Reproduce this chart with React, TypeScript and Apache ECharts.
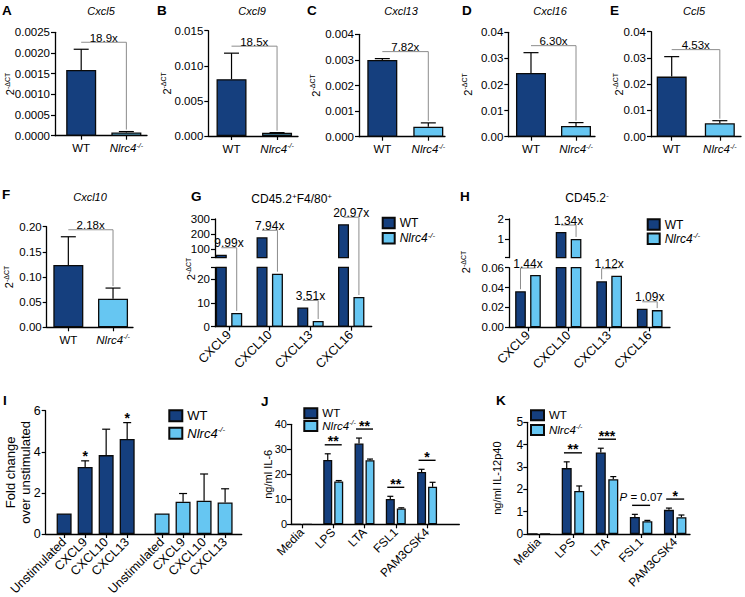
import React, { useEffect, useRef } from 'react';
import * as echarts from 'echarts';

const FONT = '"Liberation Sans", Arial, Helvetica, sans-serif';
const WT_COLOR = '#153f7e';
const KO_COLOR = '#66c6f2';
const EDGE = '#0a0a0a';
const BRACKET = '#8c8c8c';
const KO_NAME = 'Nlrc4-/-';

// ---------- DATA ----------
const geneTitles = ['Cxcl5', 'Cxcl9', 'Cxcl13', 'Cxcl16', 'Ccl5', 'Cxcl10'];
const cxcl5Mean = [0.00159, 0.00008];
const cxcl5Sem = [0.0005, 0.00002];
const cxcl9Mean = [0.0081, 0.00045];
const cxcl9Sem = [0.0037, 0.00003];
const cxcl13Mean = [0.003, 0.00039];
const cxcl13Sem = [0.00005, 0.00015];
const cxcl16Mean = [0.0244, 0.0041];
const cxcl16Sem = [0.0078, 0.0013];
const ccl5Mean = [0.0229, 0.0051];
const ccl5Sem = [0.0076, 0.001];
const cxcl10Mean = [0.124, 0.057];
const cxcl10Sem = [0.056, 0.021];
const singleFolds = ['18.9x', '18.5x', '7.82x', '6.30x', '4.53x', '2.18x'];

const chemokines = ['CXCL9', 'CXCL10', 'CXCL13', 'CXCL16'];
const macWT = [60, 177, 8.1, 265];
const macKO = [5.8, 22.3, 2.4, 12.5];
const macFolds = ['9.99x', '7.94x', '3.51x', '20.97x'];
const macUpperTicks = [100, 200, 300];
const macLowerTicks = [0, 10, 20];
const nonHemWT = [0.0363, 1.36, 0.0463, 0.0186];
const nonHemKO = [0.0526, 1.02, 0.052, 0.0173];
const nonHemFolds = ['1.44x', '1.34x', '1.12x', '1.09x'];
const nonHemUpperTicks = [1, 2];
const nonHemLowerTicks = [0, 0.02, 0.04, 0.06];

const stimLabels = ['Unstimulated', 'CXCL9', 'CXCL10', 'CXCL13'];
const foldWT = [1, 3.26, 3.84, 4.62];
const foldWTSem = [0, 0.3, 1.26, 0.8];
const foldKO = [1, 1.57, 1.62, 1.53];
const foldKOSem = [0, 0.4, 1.3, 0.67];
const foldWTStars = ['', '*', '', '*'];

const tlrLigands = ['Media', 'LPS', 'LTA', 'FSL1', 'PAM3CSK4'];
const il6WT = [0, 25.7, 32.3, 10.1, 20.9];
const il6WTSem = [0, 2.5, 2.2, 1.1, 1.1];
const il6KO = [0, 17.1, 25.6, 6.3, 15];
const il6KOSem = [0, 0.4, 0.5, 0.3, 1.8];
const il6Sig = ['', '**', '**', '**', '*'];
const il12WT = [0, 2.95, 3.65, 0.76, 1.08];
const il12WTSem = [0, 0.28, 0.19, 0.12, 0.08];
const il12KO = [0, 1.93, 2.45, 0.57, 0.75];
const il12KOSem = [0, 0.22, 0.12, 0.04, 0.1];
const il12Sig = ['', '**', '***', 'P = 0.07', '*'];

// ---------- helpers ----------
function rich(size: number) {
  const sup = Math.round(size * 0.64);
  return {
    n: { fontSize: size, fontFamily: FONT, color: '#000', lineHeight: size + 2 },
    i: { fontSize: size, fontFamily: FONT, fontStyle: 'italic', color: '#000', lineHeight: size + 2 },
    s: { fontSize: sup, fontFamily: FONT, fontStyle: 'italic', color: '#000', verticalAlign: 'top', lineHeight: sup + 1 },
    u: { fontSize: sup, fontFamily: FONT, color: '#000', verticalAlign: 'top', lineHeight: sup + 1 },
  };
}
const koLabel = '{i|Nlrc4}{s|-/-}';
const yNameDCT = '{n|2}{u|-ΔCT}';

function txt(text: string, x: number, y: number, size: number, extra: any = {}) {
  return {
    type: 'text',
    x, y,
    rotation: extra.rotation || 0,
    silent: true,
    style: {
      text, x: 0, y: 0,
      fontSize: size, fontFamily: FONT,
      fontWeight: extra.fontWeight || 'normal',
      fontStyle: extra.fontStyle || 'normal',
      fill: '#000',
      align: extra.align || 'center', textAlign: extra.align || 'center',
      verticalAlign: 'middle', textVerticalAlign: 'middle',
      rich: extra.rich,
    },
  };
}

function errorBars(dx: number, cap: number) {
  return (params: any, api: any) => {
    const x = api.value(0), m = api.value(1), e = api.value(2);
    if (!(e > 0)) return undefined;
    const a = api.coord([x, m]);
    const b = api.coord([x, m + e]);
    const cx = a[0] + dx;
    const st = { stroke: '#000', lineWidth: 1.2 };
    return {
      type: 'group',
      children: [
        { type: 'line', shape: { x1: cx, y1: a[1], x2: cx, y2: b[1] }, style: st },
        { type: 'line', shape: { x1: cx - cap, y1: b[1], x2: cx + cap, y2: b[1] }, style: st },
      ],
    };
  };
}

function bracket(xa: number, ya: number, xb: number, yb: number, label: string, size: number) {
  const level = Math.min(ya, yb) - 7;
  const pts = yb >= ya
    ? [[xa, level], [xb, level], [xb, yb - 2]]
    : [[xb, level], [xa, level], [xa, ya - 2]];
  return {
    type: 'group',
    children: [
      { type: 'polyline', shape: { points: pts }, style: { stroke: BRACKET, lineWidth: 1, fill: 'none' } },
      {
        type: 'text',
        style: {
          text: label, x: (xa + xb) / 2, y: level + 1.5,
          align: 'center', textAlign: 'center', verticalAlign: 'bottom', textVerticalAlign: 'bottom',
          fontSize: size, fontFamily: FONT, fill: '#000',
        },
      },
    ],
  };
}

function sigMark(x: number, level: number, hw: number, label: string) {
  const isP = label.charAt(0) === 'P';
  const children: any[] = [
    { type: 'line', shape: { x1: x - hw, y1: level, x2: x + hw, y2: level }, style: { stroke: '#000', lineWidth: 1.4 } },
  ];
  if (isP) {
    children.push({
      type: 'text',
      style: {
        text: '{i|P}{n|' + label.slice(1) + '}', x, y: level - 2,
        align: 'center', textAlign: 'center', verticalAlign: 'bottom', textVerticalAlign: 'bottom',
        fontSize: 11.5, fontFamily: FONT, fill: '#000', rich: rich(11.5),
      },
    });
  } else {
    children.push({
      type: 'text',
      style: {
        text: label, x, y: level + 3.5,
        align: 'center', textAlign: 'center', verticalAlign: 'bottom', textVerticalAlign: 'bottom',
        fontSize: 14, fontWeight: 'bold', fontFamily: FONT, fill: '#000',
      },
    });
  }
  return { type: 'group', children };
}

// ---------- panel layouts ----------
const singlePanels = [
  { letter: 'A', mean: cxcl5Mean, sem: cxcl5Sem, grid: { left: 55, top: 32.3, width: 92, height: 103.4 }, xMin: -0.58, xMax: 1.457, yMax: 0.0025, yInt: 0.0005, dec: 4, nameGap: 38.5, lx: 2, ly: 10.8, tx: 101, ty: 10.5 },
  { letter: 'B', mean: cxcl9Mean, sem: cxcl9Sem, grid: { left: 208.3, top: 30.7, width: 89.7, height: 105.3 }, xMin: -0.51, xMax: 1.46, yMax: 0.015, yInt: 0.005, dec: 3, nameGap: 35, lx: 157, ly: 10.8, tx: 252, ty: 10.5 },
  { letter: 'C', mean: cxcl13Mean, sem: cxcl13Sem, grid: { left: 359, top: 34.3, width: 86, height: 102.4 }, xMin: -0.507, xMax: 1.363, yMax: 0.004, yInt: 0.001, dec: 3, nameGap: 37, lx: 307, ly: 10.8, tx: 401, ty: 10.5 },
  { letter: 'D', mean: cxcl16Mean, sem: cxcl16Sem, grid: { left: 508.3, top: 32.3, width: 86.7, height: 104.4 }, xMin: -0.504, xMax: 1.422, yMax: 0.04, yInt: 0.01, dec: 2, nameGap: 34, lx: 462, ly: 10.8, tx: 550, ty: 10.5 },
  { letter: 'E', mean: ccl5Mean, sem: ccl5Sem, grid: { left: 651, top: 31.7, width: 90, height: 105 }, xMin: -0.43, xMax: 1.44, yMax: 0.04, yInt: 0.01, dec: 2, nameGap: 26, lx: 610, ly: 10.8, tx: 694, ty: 10.5 },
  { letter: 'F', mean: cxcl10Mean, sem: cxcl10Sem, grid: { left: 46.7, top: 226.7, width: 86.3, height: 100.6 }, xMin: -0.484, xMax: 1.447, yMax: 0.2, yInt: 0.05, dec: 2, nameGap: 31, lx: 2, ly: 194, tx: 90, ty: 197 },
];

const I_GROUP_START = 4.66;

function buildOption() {
  const grid: any[] = [], xAxis: any[] = [], yAxis: any[] = [], series: any[] = [], legend: any[] = [], gfx: any[] = [];
  const axisLine = { show: true, onZero: false, lineStyle: { color: '#000', width: 1.3 } };
  const tick = (vals?: number[]) => {
    const t: any = { show: true, length: 4, inside: false, alignWithLabel: true, lineStyle: { color: '#000', width: 1.2 } };
    if (vals) t.customValues = vals;
    return t;
  };
  const addGrid = (g: any) => { grid.push({ ...g, containLabel: false, outerBoundsMode: 'none', show: false }); return grid.length - 1; };
  const addX = (gi: number, min: number, max: number, values: number[], fmt: any, size: number, rotate: number, visible: boolean) => {
    const lab: any = { show: visible, formatter: fmt, rotate, margin: 6, hideOverlap: false, color: '#000', fontFamily: FONT, fontSize: size, rich: rich(size) };
    if (values.length) lab.customValues = values;
    xAxis.push({
      type: 'value', gridIndex: gi, min, max, show: visible,
      splitLine: { show: false },
      axisLine: { ...axisLine, show: visible },
      axisTick: { ...tick(values.length ? values : undefined), show: visible },
      axisLabel: lab,
    });
  };
  const addY = (gi: number, min: number, max: number, o: any) => {
    const lab: any = { formatter: (v: number) => v.toFixed(o.dec), margin: o.margin || 5, fontSize: o.size, color: '#000', fontFamily: FONT, hideOverlap: false, showMinLabel: true, showMaxLabel: true };
    if (o.labelVals) lab.customValues = o.labelVals;
    const ax: any = {
      type: 'value', gridIndex: gi, min, max,
      splitLine: { show: false },
      axisLine, axisTick: tick(o.tickVals), axisLabel: lab,
      nameMoveOverlap: false,
    };
    if (o.interval) ax.interval = o.interval;
    if (o.name) {
      ax.name = o.name; ax.nameLocation = 'middle'; ax.nameGap = o.nameGap; ax.nameRotate = 90;
      ax.nameTextStyle = { fontSize: o.nameSize, fontFamily: FONT, color: '#000', lineHeight: o.nameSize + 2, rich: rich(o.nameSize) };
    }
    yAxis.push(ax);
  };

  // ----- A-F -----
  singlePanels.forEach((p, k) => {
    const gi = addGrid(p.grid);
    addX(gi, p.xMin, p.xMax, [0, 1], (v: number) => (v === 0 ? '{n|WT}' : v === 1 ? koLabel : ''), 11.5, 0, true);
    addY(gi, 0, p.yMax, { interval: p.yInt, dec: p.dec, size: 11.5, name: yNameDCT, nameGap: p.nameGap, nameSize: 11 });
    series.push({
      type: 'bar', name: 'bars' + p.letter, xAxisIndex: gi, yAxisIndex: gi, barWidth: 30, clip: true, silent: true,
      itemStyle: { borderColor: EDGE, borderWidth: 1.3 },
      data: p.mean.map((m, i) => ({ value: [i, m], itemStyle: { color: i === 0 ? WT_COLOR : KO_COLOR } })),
    });
    series.push({
      type: 'custom', name: 'err' + p.letter, xAxisIndex: gi, yAxisIndex: gi, silent: true, z: 3,
      data: p.mean.map((m, i) => [i, m, p.sem[i]]), renderItem: errorBars(0, 7.5),
    });
    series.push({
      type: 'custom', name: 'fold' + p.letter, xAxisIndex: gi, yAxisIndex: gi, silent: true, z: 4,
      data: [[0, 1, p.mean[0] + p.sem[0], p.mean[1] + p.sem[1]]],
      renderItem: (params: any, api: any) => {
        const a = api.coord([api.value(0), api.value(2)]);
        const b = api.coord([api.value(1), api.value(3)]);
        return bracket(a[0], a[1], b[0], b[1], singleFolds[k], 11.5);
      },
    });
    gfx.push(txt(p.letter, p.lx, p.ly, 13.5, { fontWeight: 'bold', align: 'left' }));
    gfx.push(txt(geneTitles[k], p.tx, p.ty, 11, { fontStyle: 'italic' }));
  });

  // ----- G, H (broken axes) -----
  const broken = [
    {
      letter: 'G', lx: 191, ly: 196, title: '{n|CD45.2}{s|+}{n|F4/80}{s|+}', tx: 291.7, ty: 199,
      nameX: 191, nameY: 269,
      upGrid: { left: 215, top: 219, width: 156.7, height: 38.7 }, loGrid: { left: 215, top: 267.3, width: 156.7, height: 59.4 },
      up: [40, 300], lo: [0, 25], upTicks: [40, ...macUpperTicks], upLabels: macUpperTicks, loTicks: [...macLowerTicks, 25], loLabels: macLowerTicks,
      upDec: 0, loDec: 0, xMin: -0.344, xMax: 3.503, bw: 11, gap: 0.4, wt: macWT, ko: macKO, folds: macFolds,
      legend: { left: 381.7, top: 216.7, itemGap: 2 },
    },
    {
      letter: 'H', lx: 460, ly: 196, title: '{n|CD45.2}{s|-}', tx: 587, ty: 198,
      nameX: 466, nameY: 262,
      upGrid: { left: 509, top: 219, width: 161, height: 38.7 }, loGrid: { left: 509, top: 267.7, width: 161, height: 59.6 },
      up: [0.1, 2], lo: [0, 0.06], upTicks: [0.1, ...nonHemUpperTicks], upLabels: nonHemUpperTicks, loTicks: nonHemLowerTicks, loLabels: nonHemLowerTicks,
      upDec: 0, loDec: 2, xMin: -0.468, xMax: 3.5, bw: 10.7, gap: 0.4, wt: nonHemWT, ko: nonHemKO, folds: nonHemFolds,
      legend: { left: 646.7, top: 218.3, itemGap: 1 },
    },
  ];
  broken.forEach((c) => {
    const up = addGrid(c.upGrid);
    const lo = addGrid(c.loGrid);
    addX(up, c.xMin, c.xMax, [], () => '', 12, 0, false);
    addX(lo, c.xMin, c.xMax, [0, 1, 2, 3], (v: number) => chemokines[v] || '', 12.5, 45, true);
    addY(up, c.up[0], c.up[1], { tickVals: c.upTicks, labelVals: c.upLabels, dec: c.upDec, size: 11.5 });
    addY(lo, c.lo[0], c.lo[1], { tickVals: c.loTicks, labelVals: c.loLabels, dec: c.loDec, size: 11.5 });
    const gapStr = Math.round(c.gap * 100) + '%';
    const defs: any[] = [[c.wt, 'WT', WT_COLOR], [c.ko, KO_NAME, KO_COLOR]];
    defs.forEach(([vals, name, color]) => {
      series.push({
        type: 'bar', name, xAxisIndex: up, yAxisIndex: up, barWidth: c.bw, barGap: gapStr, clip: true, silent: true,
        itemStyle: { color, borderColor: EDGE, borderWidth: 1.3 },
        data: vals.map((v: number, i: number) => [i, v > c.up[0] ? v : '-']),
      });
      series.push({
        type: 'bar', name, xAxisIndex: lo, yAxisIndex: lo, barWidth: c.bw, barGap: gapStr, clip: true, silent: true,
        itemStyle: { color, borderColor: EDGE, borderWidth: 1.3 },
        data: vals.map((v: number, i: number) => [i, v]),
      });
    });
    const half = (c.bw * (1 + c.gap)) / 2;
    const g = c.upGrid;
    const upY = (v: number) => g.top + ((c.up[1] - v) / (c.up[1] - c.up[0])) * g.height;
    series.push({
      type: 'custom', name: 'fold' + c.letter, xAxisIndex: lo, yAxisIndex: lo, silent: true, z: 4,
      data: c.wt.map((v, i) => [i, v, c.ko[i]]),
      renderItem: (params: any, api: any) => {
        const i = api.value(0);
        const x = api.coord([i, 0])[0];
        const yOf = (v: number) => (v > c.lo[1] ? upY(v) : api.coord([i, v])[1]);
        return bracket(x - half, yOf(api.value(1)), x + half, yOf(api.value(2)), c.folds[params.dataIndex], 12);
      },
    });
    legend.push({
      show: true, orient: 'vertical', left: c.legend.left, top: c.legend.top, padding: 0, itemGap: c.legend.itemGap,
      itemWidth: 12, itemHeight: 10.5, icon: 'rect', selectedMode: false, data: ['WT', KO_NAME],
      formatter: (n: string) => (n === 'WT' ? '{n|WT}' : koLabel),
      textStyle: { fontSize: 12, fontFamily: FONT, color: '#000', rich: rich(12) },
    });
    gfx.push(txt(c.letter, c.lx, c.ly, 13.5, { fontWeight: 'bold', align: 'left' }));
    gfx.push(txt(c.title, c.tx, c.ty, 12, { rich: rich(12) }));
    gfx.push(txt(yNameDCT, c.nameX, c.nameY, 11, { rich: rich(11), rotation: Math.PI / 2 }));
  });

  // ----- I -----
  {
    const gi = addGrid({ left: 45.7, top: 410.7, width: 196, height: 123.3 });
    const wtPos = stimLabels.map((_, i) => i);
    const koPos = stimLabels.map((_, i) => I_GROUP_START + i);
    const allPos = [...wtPos, ...koPos];
    const allLab = [...stimLabels, ...stimLabels];
    addX(gi, -0.877, 8.45, allPos, (v: number) => {
      const k = allPos.findIndex((p) => Math.abs(p - v) < 1e-6);
      return k >= 0 ? allLab[k] : '';
    }, 12.5, 45, true);
    addY(gi, 0, 6, { interval: 2, dec: 0, size: 12.5, name: 'Fold change\nover unstimulated', nameGap: 12.5, nameSize: 13 });
    const defs: any[] = [[wtPos, foldWT, foldWTSem, 'WT', WT_COLOR], [koPos, foldKO, foldKOSem, KO_NAME, KO_COLOR]];
    defs.forEach(([pos, mean, sem, name, color]) => {
      series.push({
        type: 'bar', name, xAxisIndex: gi, yAxisIndex: gi, barWidth: 15, barGap: '-100%', clip: true, silent: true,
        itemStyle: { color, borderColor: EDGE, borderWidth: 1.3 },
        data: mean.map((v: number, i: number) => [pos[i], v]),
      });
      series.push({
        type: 'custom', name: 'errI' + name, xAxisIndex: gi, yAxisIndex: gi, silent: true, z: 3,
        data: mean.map((v: number, i: number) => [pos[i], v, sem[i]]), renderItem: errorBars(0, 4),
      });
    });
    series.push({
      type: 'custom', name: 'starsI', xAxisIndex: gi, yAxisIndex: gi, silent: true, z: 4,
      data: foldWT.map((v, i) => [wtPos[i], v + foldWTSem[i]]),
      renderItem: (params: any, api: any) => {
        const lab = foldWTStars[params.dataIndex];
        if (!lab) return undefined;
        const p = api.coord([api.value(0), api.value(1)]);
        return {
          type: 'text',
          style: {
            text: lab, x: p[0], y: p[1] + 2,
            align: 'center', textAlign: 'center', verticalAlign: 'bottom', textVerticalAlign: 'bottom',
            fontSize: 14, fontWeight: 'bold', fontFamily: FONT, fill: '#000',
          },
        };
      },
    });
    legend.push({
      show: true, orient: 'vertical', left: 168.3, top: 409.3, padding: 0, itemGap: 3.5,
      itemWidth: 13, itemHeight: 11, icon: 'rect', selectedMode: false, data: ['WT', KO_NAME],
      formatter: (n: string) => (n === 'WT' ? '{n|WT}' : koLabel),
      textStyle: { fontSize: 13, fontFamily: FONT, color: '#000', rich: rich(13) },
    });
    gfx.push(txt('I', 3, 400, 13.5, { fontWeight: 'bold', align: 'left' }));
  }

  // ----- J, K -----
  const cyto = [
    {
      letter: 'J', lx: 261, ly: 401, grid: { left: 291, top: 424.3, width: 168.3, height: 100 }, xMin: -0.35, xMax: 5.03,
      yMax: 40, yInt: 10, name: 'ng/ml IL-6', nameGap: 16.5, tickSize: 11, bw: 9, gap: 0.22,
      wt: il6WT, wtSem: il6WTSem, ko: il6KO, koSem: il6KOSem, sig: il6Sig, hw: 8.5,
      legend: { left: 303.3, top: 407.3, itemGap: 0 },
    },
    {
      letter: 'K', lx: 496, ly: 400, grid: { left: 527.3, top: 422.3, width: 162.7, height: 111.7 }, xMin: -0.34, xMax: 4.435,
      yMax: 5, yInt: 1, name: 'ng/ml IL-12p40', nameGap: 24, tickSize: 12, bw: 10, gap: 0.25,
      wt: il12WT, wtSem: il12WTSem, ko: il12KO, koSem: il12KOSem, sig: il12Sig, hw: 9,
      legend: { left: 530, top: 409.3, itemGap: 2 },
    },
  ];
  cyto.forEach((c) => {
    const gi = addGrid(c.grid);
    addX(gi, c.xMin, c.xMax, [0, 1, 2, 3, 4], (v: number) => tlrLigands[v] || '', 12, 45, true);
    addY(gi, 0, c.yMax, { interval: c.yInt, dec: 0, size: c.tickSize, margin: 4, name: c.name, nameGap: c.nameGap, nameSize: 11 });
    const gapStr = Math.round(c.gap * 100) + '%';
    const half = (c.bw * (1 + c.gap)) / 2;
    const defs: any[] = [[c.wt, c.wtSem, 'WT', WT_COLOR, -half], [c.ko, c.koSem, KO_NAME, KO_COLOR, half]];
    defs.forEach(([mean, sem, name, color, dx]) => {
      series.push({
        type: 'bar', name, xAxisIndex: gi, yAxisIndex: gi, barWidth: c.bw, barGap: gapStr, clip: true, silent: true,
        itemStyle: { color, borderColor: EDGE, borderWidth: 1.3 },
        data: mean.map((v: number, i: number) => [i, v]),
      });
      series.push({
        type: 'custom', name: 'err' + c.letter + name, xAxisIndex: gi, yAxisIndex: gi, silent: true, z: 3,
        data: mean.map((v: number, i: number) => [i, v, sem[i]]), renderItem: errorBars(dx, 3),
      });
    });
    series.push({
      type: 'custom', name: 'sig' + c.letter, xAxisIndex: gi, yAxisIndex: gi, silent: true, z: 4,
      data: c.wt.map((v, i) => [i, Math.max(v + c.wtSem[i], c.ko[i] + c.koSem[i])]),
      renderItem: (params: any, api: any) => {
        const lab = c.sig[params.dataIndex];
        if (!lab) return undefined;
        const p = api.coord([api.value(0), api.value(1)]);
        return sigMark(p[0], p[1] - 9, c.hw, lab);
      },
    });
    legend.push({
      show: true, orient: 'vertical', left: c.legend.left, top: c.legend.top, padding: 0, itemGap: c.legend.itemGap,
      itemWidth: 13, itemHeight: 10, icon: 'rect', selectedMode: false, data: ['WT', KO_NAME],
      formatter: (n: string) => (n === 'WT' ? '{n|WT}' : koLabel),
      textStyle: { fontSize: 11.5, fontFamily: FONT, color: '#000', rich: rich(11.5) },
    });
    gfx.push(txt(c.letter, c.lx, c.ly, 13.5, { fontWeight: 'bold', align: 'left' }));
  });

  return {
    animation: false,
    backgroundColor: '#ffffff',
    textStyle: { fontFamily: FONT, color: '#000' },
    grid, xAxis, yAxis, series, legend,
    graphic: { elements: gfx },
  };
}

export default function App() {
  const ref = useRef<HTMLDivElement>(null);
  useEffect(() => {
    const el = ref.current;
    if (!el) return;
    const chart = echarts.init(el, null, { renderer: 'svg', width: 745, height: 597 });
    chart.setOption(buildOption() as any);
    return () => chart.dispose();
  }, []);
  return (
    <div
      ref={ref}
      style={{ position: 'absolute', left: 0, top: 0, width: 745, height: 597, background: '#fff' }}
    />
  );
}
